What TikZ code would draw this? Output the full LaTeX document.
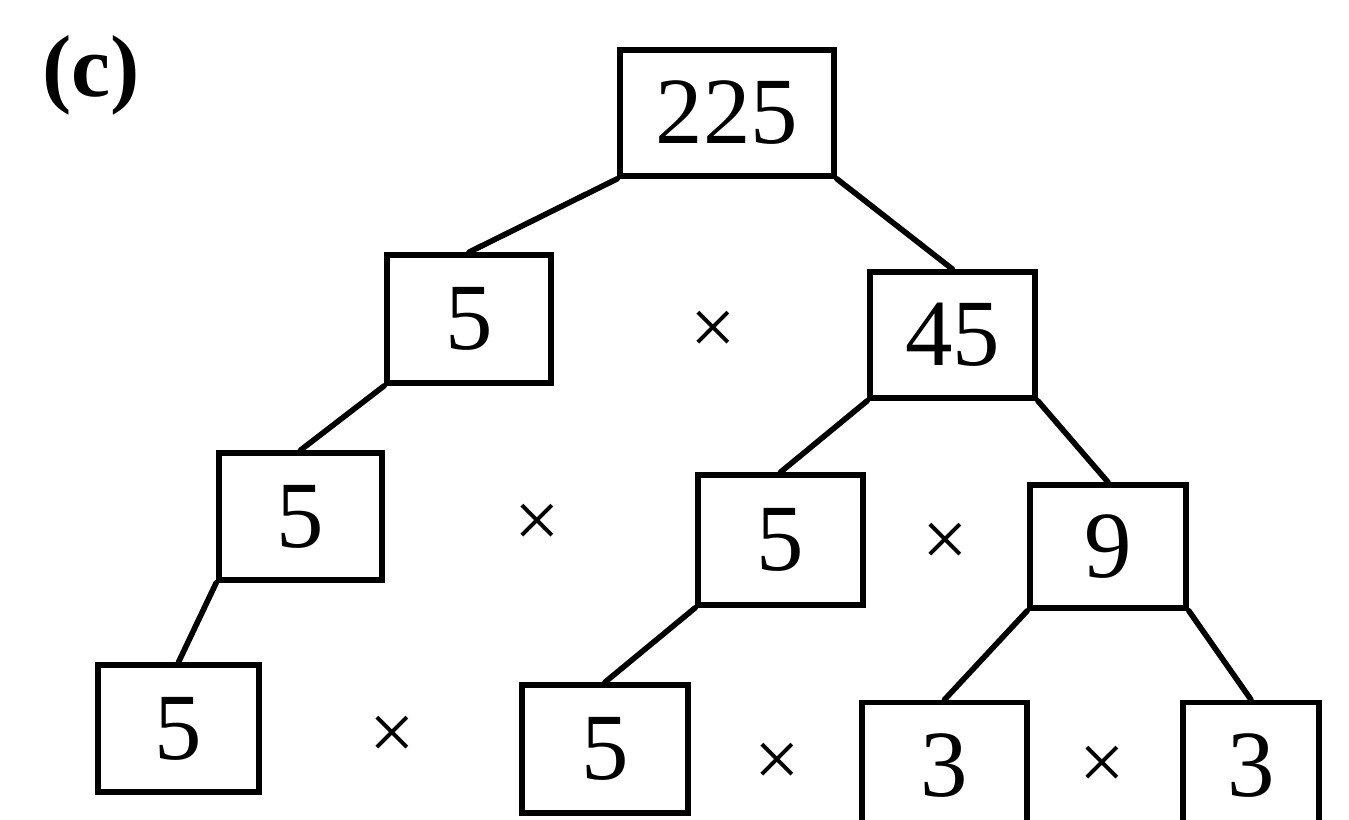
\documentclass[tikz,border=0pt]{standalone}
\usepackage{fontspec}
\setmainfont{Liberation Serif}
\begin{document}
\begin{tikzpicture}[x=0.02cm,y=-0.02cm,
  fbox/.style={draw=black, line width=3.2pt, rectangle, inner sep=0pt, font=\fontsize{54}{60}\selectfont},
  timesop/.style={inner sep=0pt, font=\fontsize{46}{50}\selectfont},
  edge/.style={line width=3.2pt, line cap=round}]
\useasboundingbox (0,0) rectangle (1349,819);
\fill[white] (0,0) rectangle (1349,819);
\node[inner sep=0pt, font=\fontsize{50}{60}\selectfont\bfseries] (lab) at (91,75) {(c)};
\node[fbox, minimum width=214*0.02cm, minimum height=126*0.02cm] (root) at (727,113) {225};
\node[fbox, minimum width=164*0.02cm, minimum height=128*0.02cm] (a2) at (469,319) {5};
\node[fbox, minimum width=165*0.02cm, minimum height=126*0.02cm] (b2) at (952.5,335) {45};
\node[fbox, minimum width=163*0.02cm, minimum height=127*0.02cm] (a3) at (300.5,516.5) {5};
\node[fbox, minimum width=165*0.02cm, minimum height=130*0.02cm] (b3) at (780.5,540) {5};
\node[fbox, minimum width=156*0.02cm, minimum height=123*0.02cm] (c3) at (1108,546.5) {9};
\node[fbox, minimum width=161*0.02cm, minimum height=127*0.02cm] (a4) at (178.5,728.5) {5};
\node[fbox, minimum width=166*0.02cm, minimum height=128*0.02cm] (b4) at (605,749) {5};
\node[fbox, minimum width=165*0.02cm, minimum height=127*0.02cm] (c4) at (944.5,766) {3};
\node[fbox, minimum width=136*0.02cm, minimum height=127*0.02cm] (d4) at (1251,766) {3};
\node[timesop] (x1) at (713,333) {×};
\node[timesop] (x2) at (537,526) {×};
\node[timesop] (x3) at (945,545) {×};
\node[timesop] (x4) at (392,738) {×};
\node[timesop] (x5) at (777,765) {×};
\node[timesop] (x6) at (1102,768) {×};
\draw[edge] (root.south west) -- (a2.north);
\draw[edge] (root.south east) -- (b2.north);
\draw[edge] (a2.south west) -- (a3.north);
\draw[edge] (b2.south west) -- (b3.north);
\draw[edge] (b2.south east) -- (c3.north);
\draw[edge] (a3.south west) -- (a4.north);
\draw[edge] (b3.south west) -- (b4.north);
\draw[edge] (c3.south west) -- (c4.north);
\draw[edge] (c3.south east) -- (d4.north);
\end{tikzpicture}
\end{document}
